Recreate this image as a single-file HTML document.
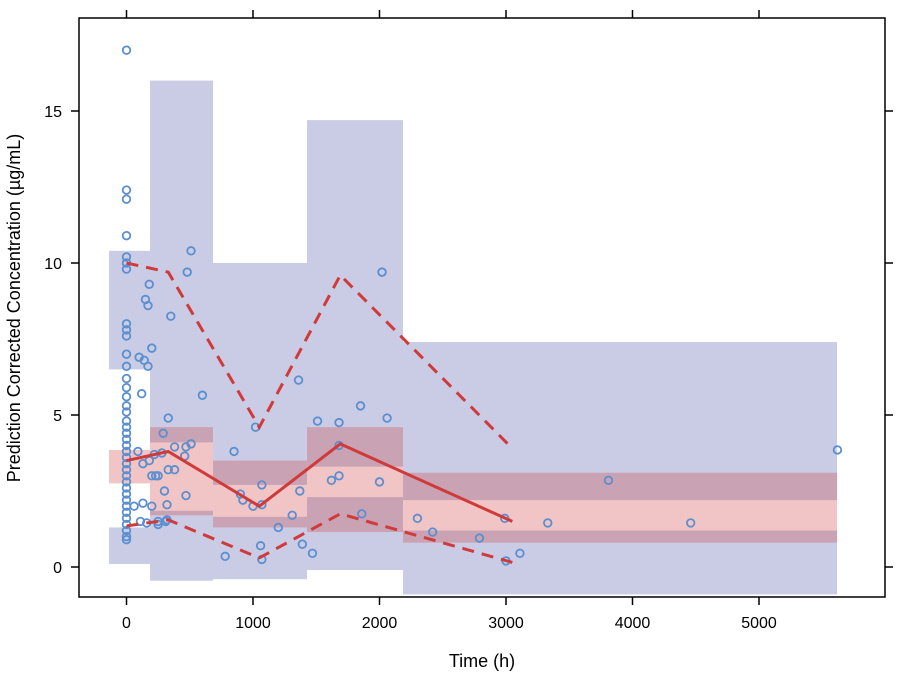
<!DOCTYPE html>
<html><head><meta charset="utf-8"><style>
body{margin:0;background:#fff}
svg text{font-family:"Liberation Sans",sans-serif;fill:#000}
</style></head><body>
<svg id="c" width="901" height="674" xmlns="http://www.w3.org/2000/svg"></svg>
<script>
const binEdges=[-138,186,684,1427,2186,5617];
const loPiLo=[0.1,-0.45,-0.4,-0.1,-0.9];
const loPiHi=[1.3,1.85,1.65,2.3,1.2];
const hiPiLo=[6.5,4.1,2.7,3.3,2.2];
const hiPiHi=[10.4,16,10.0,14.7,7.4];
const medLo=[2.75,1.7,1.3,1.15,0.8];
const medHi=[3.85,4.6,3.5,4.6,3.1];
const lineT=[0,330,1050,1690,3050];
const medianLine=[3.5,3.8,2.0,4.05,1.5];
const upperLine=[10.0,9.7,4.6,9.6,3.9];
const lowerLine=[1.35,1.55,0.3,1.75,0.15];
const obsT=[0,0,0,0,0,0,0,0,0,0,0,0,0,0,0,0,0,0,0,0,0,0,0,0,0,0,0,0,0,0,0,0,0,0,0,0,0,0,
60,130,150,180,170,100,140,200,170,120,90,130,180,220,200,250,300,310,250,160,110,200,
350,480,510,600,330,290,380,470,510,330,380,280,460,230,320,470,250,320,780,850,900,920,1000,1020,1070,1070,1060,1070,1200,1310,1360,1370,1390,1470,1510,1620,1680,1680,1680,1850,1860,2000,2020,2060,2300,2420,2790,2990,3000,3110,3330,3810,4460,5620];
const obsC=[17,12.4,12.1,10.9,10.2,10.0,9.8,8.0,7.8,7.6,7.0,6.6,6.2,5.9,5.6,5.3,5.1,4.8,4.6,4.4,4.2,4.0,3.8,3.6,3.4,3.2,3.0,2.8,2.6,2.4,2.2,2.0,1.8,1.6,1.4,1.2,1.0,0.9,
2.0,2.1,8.8,9.3,8.6,6.9,6.8,7.2,6.6,5.7,3.8,3.4,3.5,3.7,3.0,3.0,2.5,1.5,1.4,1.45,1.5,2.0,
8.25,9.7,10.4,5.65,4.9,4.4,3.95,3.95,4.05,3.2,3.2,3.75,3.65,3.0,2.05,2.35,1.5,1.55,0.35,3.8,2.4,2.2,2.0,4.6,2.7,2.05,0.7,0.25,1.3,1.7,6.15,2.5,0.75,0.45,4.8,2.85,4.75,4.0,3.0,5.3,1.75,2.8,9.7,4.9,1.6,1.15,0.95,1.6,0.2,0.45,1.45,2.85,1.45,3.85];
const xTicks=[0,1000,2000,3000,4000,5000];
const yTicks=[0,5,10,15];
const L=79,R=885,T=18,B=597;
const X=t=>126.5+t*0.1265, Y=v=>567-v*30.4;
const svg=document.getElementById('c'),NS='http://www.w3.org/2000/svg';
function mk(tag,a,p){const e=document.createElementNS(NS,tag);for(const k in a)e.setAttribute(k,a[k]);(p||svg).appendChild(e);return e;}
function rect(t0,t1,a,b,fill,name){const e=mk('rect',{x:X(t0),y:Y(Math.max(a,b)),width:X(t1)-X(t0),height:Math.abs(Y(a)-Y(b)),fill:fill});

}
for(let i=0;i<5;i++){
 const t0=binEdges[i],t1=binEdges[i+1];
 rect(t0,t1,loPiLo[i],loPiHi[i],'#c9cce4','lower-pi-band');
 rect(t0,t1,hiPiLo[i],hiPiHi[i],'#c9cce4','upper-pi-band');
 rect(t0,t1,medLo[i],medHi[i],'#f1c5c6','median-pi-band');
 [[loPiLo[i],loPiHi[i]],[hiPiLo[i],hiPiHi[i]]].forEach(([a,b])=>{const lo=Math.max(a,medLo[i]),hi=Math.min(b,medHi[i]);if(hi>lo)rect(t0,t1,lo,hi,'#c9a3b4','overlap-band');});
}
for(let i=0;i<obsT.length;i++){const c=mk('circle',{cx:X(obsT[i]),cy:Y(obsC[i]),r:3.8,fill:'none',stroke:'#5b8fd0','stroke-width':1.8});

}
function line(vals,dash,name){const p=mk('polyline',{points:lineT.map((t,i)=>X(t)+','+Y(vals[i])).join(' '),fill:'none',stroke:'#d03a3a','stroke-width':3,'stroke-dasharray':dash||'none'});

}
line(medianLine,null,'median-line');line(upperLine,'12,8','upper-percentile-line');line(lowerLine,'12,8','lower-percentile-line');
const fr=mk('rect',{x:L,y:T,width:R-L,height:B-T,fill:'none',stroke:'#000','stroke-width':1.5});

xTicks.forEach(t=>{mk('line',{x1:X(t),x2:X(t),y1:B,y2:B+8,stroke:'#000','stroke-width':1.5});mk('line',{x1:X(t),x2:X(t),y1:T,y2:T-8,stroke:'#000','stroke-width':1.5});
const tx=mk('text',{x:X(t),y:628,'text-anchor':'middle','font-size':16});tx.textContent=t;
});
yTicks.forEach(v=>{mk('line',{x1:L,x2:L-8,y1:Y(v),y2:Y(v),stroke:'#000','stroke-width':1.5});mk('line',{x1:R,x2:R+8,y1:Y(v),y2:Y(v),stroke:'#000','stroke-width':1.5});
const tx=mk('text',{x:62,y:Y(v)+6,'text-anchor':'end','font-size':16});tx.textContent=v;
});
const xt=mk('text',{x:482,y:667,'text-anchor':'middle','font-size':18});xt.textContent='Time (h)';

const yt=mk('text',{x:0,y:0,'text-anchor':'middle','font-size':18,transform:'translate(20,308) rotate(-90)'});yt.textContent='Prediction Corrected Concentration (µg/mL)';

</script>
</body></html>
